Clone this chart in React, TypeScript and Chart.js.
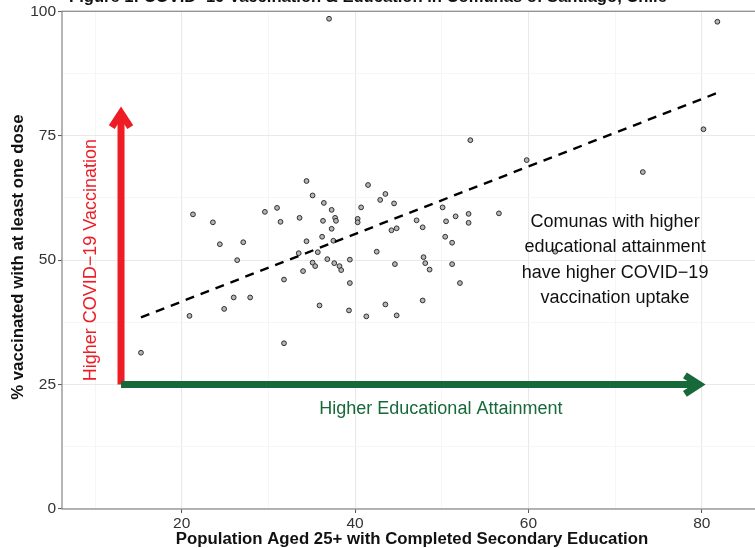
import React, { useEffect, useRef } from 'react';
import { Chart, registerables } from 'chart.js';
Chart.register(...registerables);

// % population aged 25+ with completed secondary education (x) per comuna
const educationPct = [
  15.3, 21.3, 20.9, 23.6, 24.4, 27.1, 26.4, 24.9, 26.0, 27.9,
  29.6, 31.0, 31.4, 33.6, 31.8, 31.8, 34.4, 35.1, 36.4, 37.3,
  37.7, 37.8, 36.3, 37.3, 36.2, 37.5, 34.4, 33.5, 35.7, 35.1,
  35.4, 36.8, 37.6, 38.2, 38.4, 34.0, 35.9, 39.4, 39.4, 39.3,
  41.5, 42.9, 43.5, 44.5, 40.7, 40.3, 40.3, 44.2, 44.8, 47.1,
  47.8, 42.5, 44.6, 47.9, 48.1, 48.6, 50.1, 50.5, 51.6, 53.1,
  53.1, 56.6, 50.4, 51.2, 51.2, 52.1, 41.3, 43.5, 44.8, 47.8,
  53.3, 59.8, 73.2, 80.2, 81.8, 37.0, 63.1,
];
// % vaccinated with at least one dose (y) per comuna
const vaccinatedPct = [
  31.4, 59.2, 38.8, 57.6, 53.2, 53.6, 50.0, 40.2, 42.5, 42.5,
  59.7, 60.5, 57.7, 58.5, 46.1, 33.3, 65.9, 63.0, 61.5, 60.1,
  58.5, 57.9, 57.9, 56.3, 54.7, 53.9, 53.8, 51.4, 51.6, 49.5,
  48.8, 50.2, 49.4, 48.8, 48.0, 47.8, 40.9, 50.1, 45.4, 39.9,
  65.1, 62.1, 63.3, 61.4, 60.6, 58.3, 57.6, 56.0, 56.4, 58.0,
  56.6, 51.7, 49.2, 50.6, 49.4, 48.1, 60.6, 57.8, 58.8, 59.3,
  57.5, 59.4, 54.7, 53.5, 49.2, 45.4, 38.7, 41.1, 38.9, 41.9,
  74.1, 70.1, 67.7, 76.3, 97.9, 98.5, 51.7,
];
// fitted linear trend
const fitX = [15.3, 81.8];
const fitY = [38.5, 83.6];

const xTickValues = [10, 20, 30, 40, 50, 60, 70, 80];
const xTickLabels = ['', '20', '', '40', '', '60', '', '80'];
const yTickValues = [0, 12.5, 25, 37.5, 50, 62.5, 75, 87.5, 100];
const yTickLabels = ['0', '', '25', '', '50', '', '75', '', '100'];

const titleText = 'Figure 1: COVID\u221219 Vaccination & Education in Comunas of Santiago, Chile';
const xTitle = 'Population Aged 25+ with Completed Secondary Education';
const yTitle = '% vaccinated with at least one dose';
const redLabel = 'Higher COVID\u221219 Vaccination';
const greenLabel = 'Higher Educational Attainment';
const noteLines = ['Comunas with higher', 'educational attainment', 'have higher COVID\u221219', 'vaccination uptake'];

const FONT = '"Liberation Sans", Arial, Helvetica, sans-serif';
const RED = '#ee1c25';
const GREEN = '#17693a';

function drawArrow(ctx: CanvasRenderingContext2D, x0: number, y0: number, x1: number, y1: number, color: string) {
  const w = 7;
  const headLen = 17;
  const ang = (33 * Math.PI) / 180;
  const dir = Math.atan2(y1 - y0, x1 - x0);
  ctx.save();
  ctx.strokeStyle = color;
  ctx.lineWidth = w;
  ctx.lineCap = 'butt';
  ctx.beginPath();
  ctx.moveTo(x0, y0);
  ctx.lineTo(x1, y1);
  ctx.stroke();
  ctx.lineJoin = 'miter';
  ctx.miterLimit = 10;
  ctx.beginPath();
  ctx.moveTo(x1 - headLen * Math.cos(dir - ang), y1 - headLen * Math.sin(dir - ang));
  ctx.lineTo(x1, y1);
  ctx.lineTo(x1 - headLen * Math.cos(dir + ang), y1 - headLen * Math.sin(dir + ang));
  ctx.stroke();
  ctx.restore();
}

const overlayPlugin = {
  id: 'overlay',
  afterDatasetsDraw(chart: any) {
    const ctx: CanvasRenderingContext2D = chart.ctx;
    const xs = chart.scales.x;
    const ys = chart.scales.y;
    const area = chart.chartArea;
    const px = (v: number) => xs.getPixelForValue(v);
    const py = (v: number) => ys.getPixelForValue(v);

    // panel border
    ctx.save();
    ctx.strokeStyle = '#8f8f8f';
    ctx.lineWidth = 1.3;
    ctx.strokeRect(area.left, area.top, area.right - area.left, area.bottom - area.top);
    ctx.restore();

    // arrows
    drawArrow(ctx, px(13.0), py(25), px(13.0), py(79.6), RED);
    drawArrow(ctx, px(13.0), py(25), px(79.7), py(25), GREEN);

    ctx.save();
    ctx.font = `18px ${FONT}`;
    ctx.textAlign = 'center';
    ctx.textBaseline = 'middle';
    // red rotated label
    ctx.save();
    ctx.translate(px(9.5), py(50));
    ctx.rotate(-Math.PI / 2);
    ctx.fillStyle = RED;
    ctx.fillText(redLabel, 0, 0);
    ctx.restore();
    // green label
    ctx.fillStyle = GREEN;
    ctx.fillText(greenLabel, px(49.9), py(20));
    // note
    ctx.fillStyle = '#111';
    const cx = px(70);
    const cy = py(50);
    const lh = 25.5;
    noteLines.forEach((t, i) => {
      ctx.fillText(t, cx, cy + (i - (noteLines.length - 1) / 2) * lh);
    });
    ctx.restore();
  },
  afterDraw(chart: any) {
    const ctx: CanvasRenderingContext2D = chart.ctx;
    const area = chart.chartArea;
    ctx.save();
    ctx.fillStyle = '#111';
    ctx.textBaseline = 'alphabetic';
    // plot title (cut off at the top, as in the source)
    ctx.font = `bold 16.6px ${FONT}`;
    ctx.textAlign = 'left';
    ctx.fillText(titleText, 69, 2);
    // axis titles
    ctx.font = `bold 16.8px ${FONT}`;
    ctx.textAlign = 'center';
    ctx.fillText(xTitle, (area.left + area.right) / 2, 544);
    ctx.save();
    ctx.translate(23, (area.top + area.bottom) / 2 - 3);
    ctx.rotate(-Math.PI / 2);
    ctx.fillText(yTitle, 0, 0);
    ctx.restore();
    ctx.restore();
  },
};

export default function App() {
  const ref = useRef<HTMLCanvasElement>(null);
  useEffect(() => {
    const canvas = ref.current;
    if (!canvas) return;
    const majorX = (v: number) => v % 20 === 0;
    const majorY = (v: number) => v % 25 === 0;
    const chart = new Chart(canvas, {
      type: 'scatter',
      data: {
        datasets: [
          {
            type: 'line',
            data: fitX.map((x, i) => ({ x, y: fitY[i] })),
            borderColor: '#000',
            borderWidth: 2.4,
            borderDash: [9, 7],
            pointRadius: 0,
            fill: false,
            order: 0,
          } as any,
          {
            type: 'scatter',
            data: educationPct.map((x, i) => ({ x, y: vaccinatedPct[i] })),
            pointRadius: 2.4,
            pointBorderWidth: 1,
            backgroundColor: '#b5b5b5',
            borderColor: '#2e2e2e',
            order: 1,
          } as any,
        ],
      },
      options: {
        responsive: false,
        animation: false,
        devicePixelRatio: 1,
        layout: { padding: { top: 10, right: 8, left: 0, bottom: 0 } },
        plugins: { legend: { display: false }, tooltip: { enabled: false }, title: { display: false } },
        scales: {
          x: {
            type: 'linear',
            min: 6.19,
            max: 86.95,
            afterBuildTicks: (s: any) => {
              s.ticks = xTickValues.map((v) => ({ value: v }));
            },
            afterFit: (s: any) => {
              s.height = 39;
            },
            ticks: {
              autoSkip: false,
              maxRotation: 0,
              padding: 1,
              color: '#333',
              font: { family: FONT, size: 15.5 },
              callback: (v: any) => {
                const i = xTickValues.indexOf(Number(v));
                return i >= 0 ? xTickLabels[i] : '';
              },
            },
            grid: {
              color: (c: any) => (c.tick && majorX(c.tick.value) ? '#e9e9e9' : '#f4f4f4'),
              lineWidth: (c: any) => (c.tick && majorX(c.tick.value) ? 1.1 : 0.8),
              tickLength: 4,
              tickColor: (c: any) => (c.tick && majorX(c.tick.value) ? '#555' : 'rgba(0,0,0,0)'),
              tickWidth: 1,
            },
            border: { display: false },
          },
          y: {
            type: 'linear',
            min: 0,
            max: 100,
            afterBuildTicks: (s: any) => {
              s.ticks = yTickValues.map((v) => ({ value: v }));
            },
            afterFit: (s: any) => {
              s.width = 62;
            },
            ticks: {
              autoSkip: false,
              padding: 2,
              color: '#333',
              font: { family: FONT, size: 15.5 },
              callback: (v: any) => {
                const i = yTickValues.indexOf(Number(v));
                return i >= 0 ? yTickLabels[i] : '';
              },
            },
            grid: {
              color: (c: any) => (c.tick && majorY(c.tick.value) ? '#e9e9e9' : '#f4f4f4'),
              lineWidth: (c: any) => (c.tick && majorY(c.tick.value) ? 1.1 : 0.8),
              tickLength: 4,
              tickColor: (c: any) => (c.tick && majorY(c.tick.value) ? '#555' : 'rgba(0,0,0,0)'),
              tickWidth: 1,
            },
            border: { display: false },
          },
        },
      },
      plugins: [overlayPlugin],
    } as any);
    return () => chart.destroy();
  }, []);
  return (
    <div style={{ position: 'fixed', left: 0, top: 0, width: 755, height: 548, overflow: 'hidden', background: '#fff' }}>
      <canvas ref={ref} width={770} height={548} style={{ display: 'block', width: 770, height: 548 }} />
    </div>
  );
}
